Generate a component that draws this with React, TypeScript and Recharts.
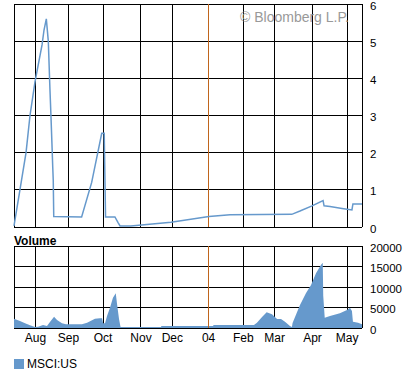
import { LineChart, Line, AreaChart, Area, XAxis, YAxis, CartesianGrid, ReferenceLine } from 'recharts'

// trading-day index of each month start
const monthTicks = [13, 33, 54, 77, 96, 118, 139, 158, 181, 202]
const monthLabels = ['Aug', 'Sep', 'Oct', 'Nov', 'Dec', '04', 'Feb', 'Mar', 'Apr', 'May']
const yearTick = 118

const priceTicks = [0, 1, 2, 3, 4, 5, 6]
const volumeTicks = [0, 5000, 10000, 15000, 20000]

const priceDays = [
  0, 3.6, 7.3, 9.7, 12.7, 17, 18.2, 19.6, 20.8, 21.8, 22.4, 23, 23.5, 23.8, 24.1, 41, 47.1, 53.2, 54.7,
  55.1, 55.5, 61.2, 63.1, 64.3, 70.8, 95.2, 118.2, 131, 168.4, 173.4, 180.7, 187.4, 188, 191.6, 198.9,
  204.9, 205.5, 211,
]
const priceValues = [
  0.03, 1.0, 2.0, 3.0, 3.9, 4.9, 5.3, 5.6, 5.0, 3.7, 3.0, 2.25, 1.6, 1.26, 0.28, 0.27, 1.2, 2.52, 2.52,
  1.4, 0.27, 0.27, 0.12, 0.03, 0.03, 0.13, 0.28, 0.33, 0.34, 0.43, 0.57, 0.71, 0.57, 0.55, 0.5, 0.46,
  0.62, 0.62,
]

const volumeDays = [
  0, 3.6, 6.7, 9.7, 12.7, 14.6, 17.6, 20, 21.8, 24.3, 26.1, 29.1, 31.5, 41.2, 44.3, 49.1, 52.1, 53.4, 54,
  55.2, 56.4, 58.2, 60, 61.7, 62.5, 63.7, 64.6, 89.1, 89.4, 120.7, 121, 145.5, 147.3, 150.4, 153.2, 156.4,
  159.5, 161.9, 164.3, 167.3, 168.5, 168.9, 173.4, 177, 180.1, 183.1, 186.1, 187.2, 187.5, 188.4, 191.6,
  197.6, 201.9, 203.7, 204.9, 205.5, 208.6, 211,
]
const volumeValues = [
  2270, 1700, 1150, 660, 240, 300, 730, 490, 1460, 2760, 1950, 1150, 900, 900, 1300, 2270, 2360, 2360, 1150,
  1150, 2930, 4950, 7400, 8460, 5780, 2120, 250, 250, 500, 500, 750, 750, 1300, 2700, 3830, 3340, 2200,
  2200, 1540, 490, 250, 1220, 5600, 8460, 10500, 13350, 15370, 15930, 7880, 2510, 2930, 3580, 4390, 4950,
  4150, 1540, 1300, 900,
]

const priceData = priceDays.map((t, i) => ({ t, price: priceValues[i] }))
const volumeData = volumeDays.map((t, i) => ({ t, volume: volumeValues[i] }))

const FONT = '"Liberation Sans", Arial, sans-serif'
const BLUE = '#6699cc'
const ORANGE = '#c0651c'
const tickStyle = { fontSize: 12, fill: '#000', fontFamily: FONT }
const monthName = (v: number) => monthLabels[monthTicks.indexOf(v)] ?? ''

// crisp 1px rules like the original bitmap
const css = `
.recharts-cartesian-grid line,
.recharts-reference-line line,
.recharts-cartesian-axis-line { shape-rendering: crispEdges; }
`

function RightTick(props: any) {
  const { x, y, payload } = props
  return (
    <text x={x} y={y + 1.5} dy="0.36em" textAnchor="start" {...tickStyle} fontSize={11.5}>
      {payload.value}
    </text>
  )
}

export default function App() {
  return (
    <div style={{ position: 'absolute', left: 0, top: 0, width: 419, height: 373, background: '#fff', fontFamily: FONT }}>
      <style>{css}</style>
      <div style={{ position: 'absolute', left: 0, top: 0 }}>
        <LineChart width={419} height={236} data={priceData} margin={{ top: 4, right: 0, bottom: 9, left: 14 }}>
          <CartesianGrid stroke="#000" strokeOpacity={1} />
          <XAxis dataKey="t" type="number" domain={[0, 211]} ticks={monthTicks} hide />
          <YAxis
            orientation="right"
            width={57}
            domain={[0, 6]}
            ticks={priceTicks}
            interval={0}
            tick={<RightTick />}
            tickLine={false}
            axisLine={{ stroke: '#000' }}
          />
          <ReferenceLine x={yearTick} stroke={ORANGE} />
          <Line
            type="linear"
            dataKey="price"
            stroke={BLUE}
            strokeWidth={1.5}
            dot={false}
            isAnimationActive={false}
          />
        </LineChart>
      </div>
      <div
        style={{
          position: 'absolute',
          left: 240,
          top: 9,
          color: '#999',
          fontSize: 14,
          whiteSpace: 'nowrap',
        }}
      >
        © Bloomberg L.P.
      </div>
      <div style={{ position: 'absolute', left: 14, top: 234, fontSize: 12, fontWeight: 'bold' }}>Volume</div>
      <div style={{ position: 'absolute', left: 0, top: 236 }}>
        <AreaChart width={419} height={116} data={volumeData} margin={{ top: 10, right: 0, bottom: 4, left: 14 }}>
          <CartesianGrid stroke="#000" strokeOpacity={1} />
          <XAxis
            dataKey="t"
            type="number"
            domain={[0, 211]}
            ticks={monthTicks}
            tickFormatter={monthName}
            tick={tickStyle}
            tickLine={false}
            tickSize={4}
            tickMargin={1}
            height={20}
            axisLine={{ stroke: '#000' }}
            interval={0}
          />
          <YAxis
            orientation="right"
            width={57}
            domain={[0, 20000]}
            ticks={volumeTicks}
            interval={0}
            tick={<RightTick />}
            tickLine={false}
            axisLine={{ stroke: '#000' }}
          />
          <ReferenceLine x={yearTick} stroke={ORANGE} />
          <Area
            type="linear"
            dataKey="volume"
            stroke="none"
            fill={BLUE}
            fillOpacity={1}
            isAnimationActive={false}
          />
        </AreaChart>
      </div>
      <div style={{ position: 'absolute', left: 14, top: 357, display: 'flex', alignItems: 'center', fontSize: 12 }}>
        <span style={{ display: 'inline-block', width: 10, height: 10, background: BLUE, marginRight: 3 }} />
        MSCI:US
      </div>
    </div>
  )
}
